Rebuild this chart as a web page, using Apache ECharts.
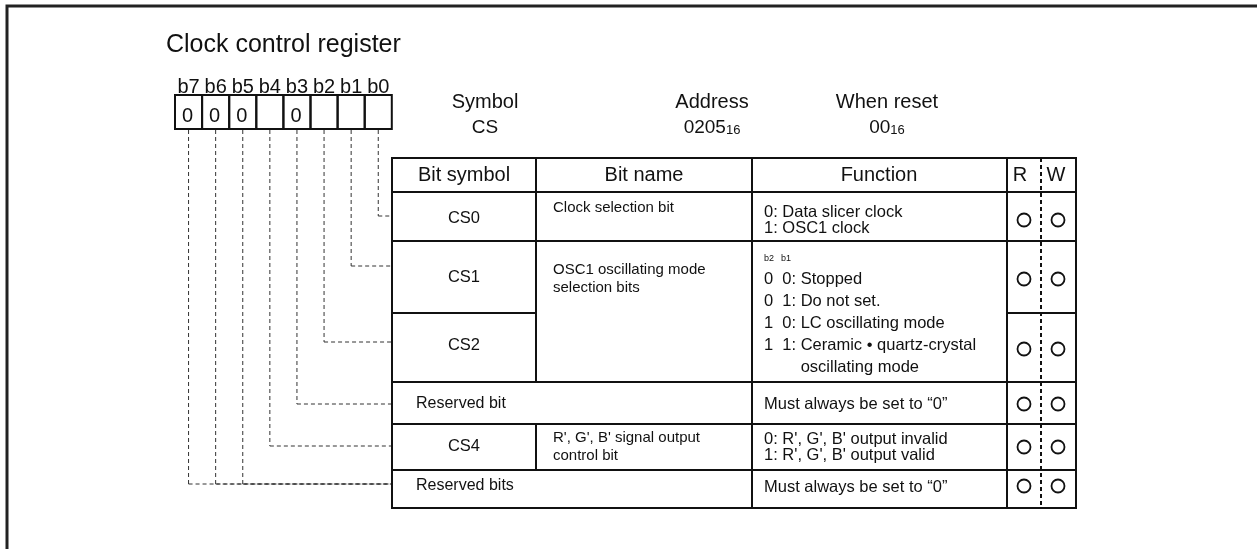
<!DOCTYPE html>
<html><head><meta charset="utf-8">
<script src="https://cdn.jsdelivr.net/npm/echarts@6/dist/echarts.min.js"></script>
<style>html,body{margin:0;padding:0;background:#fff}#c{width:1257px;height:549px}</style>
</head><body><div id="c"></div>
<script>
// ---------- content ----------
const titleText = 'Clock control register';
const bitLabels = ['b7','b6','b5','b4','b3','b2','b1','b0'];
const bitValues = ['0','0','0','','0','','',''];
const infoLabels = ['Symbol','Address','When reset'];
const infoValues = ['CS','0205','00'];
const infoSubscripts = ['','16','16'];
const columnHeaders = ['Bit symbol','Bit name','Function','R','W'];
const rowSymbols = ['CS0','CS1','CS2','Reserved bit','CS4','Reserved bits'];
const rowNames = [['Clock selection bit'],['OSC1 oscillating mode','selection bits'],[],[],["R', G', B' signal output",'control bit'],[]];
const rowFunctions = [
  ['0: Data slicer clock','1: OSC1 clock'],
  ['0  0: Stopped','0  1: Do not set.','1  0: LC oscillating mode','1  1: Ceramic \u2022 quartz-crystal','        oscillating mode'],
  [],
  ['Must always be set to \u201c0\u201d'],
  ["0: R', G', B' output invalid","1: R', G', B' output valid"],
  ['Must always be set to \u201c0\u201d']
];
const functionNote = ['b2','b1'];
const readable = ['O','O','O','O','O','O'];
const writable = ['O','O','O','O','O','O'];
const bitToRow = [5,5,5,4,3,2,1,0]; // b7..b0 -> row index

// ---------- layout ----------
const FONT = '"Liberation Sans", Arial, Helvetica, sans-serif';
const colX = [392,536,752,1007,1041,1076];
const rowY = [158,192,241,313,382,424,470,508];
const boxX0 = 175, boxW = 27.1, boxY0 = 95, boxY1 = 129;
const linkY = [216,266,342,404,446,484];
const symbolY = [218,277,345,404,446,486];
const nameY = [208,270,0,0,438,0];
const fnY = [212,279,0,404,439,487];
const markY = [220,279,349,404,447,486];
const infoX = [485,712,887];
const spanSymbolName = [false,false,false,true,false,true];

const els = [];
function txt(x,y,text,size,align,extra){
  els.push(Object.assign({type:'text',x:x,y:y,silent:true,style:{text:text,fill:'#111',font:size+'px '+FONT,fontSize:size,fontFamily:FONT,
    align:align||'left',verticalAlign:'middle',textAlign:align||'left',textVerticalAlign:'middle'}},extra||{}));
}
function line(x1,y1,x2,y2,w,dash,color){
  els.push({type:'line',silent:true,shape:{x1:x1,y1:y1,x2:x2,y2:y2},style:{stroke:color||'#111',lineWidth:w||2,lineDash:dash||null}});
}

// outer frame
els.push({type:'polyline',silent:true,shape:{points:[[7,549],[7,6],[1257,6]]},style:{stroke:'#222',lineWidth:3,fill:null}});

// title
txt(166,45,titleText,25);

// bit boxes
bitLabels.forEach((b,i)=>{
  const x = boxX0 + i*boxW;
  txt(x+boxW/2, 87, b, 20, 'center');
  els.push({type:'rect',silent:true,shape:{x:x,y:boxY0,width:boxW,height:boxY1-boxY0},style:{fill:'none',stroke:'#111',lineWidth:2}});
  if (bitValues[i]) txt(x+boxW/2-1, 116, bitValues[i], 20, 'center');
  const cx = x + boxW/2;
  const ly = linkY[bitToRow[i]];
  line(cx, boxY1+1, cx, ly, 1, [4,3], '#333');
  line(cx, ly, colX[0], ly, 1, [4,3], '#333');
});

// info labels
infoLabels.forEach((l,i)=>{
  txt(infoX[i], 102, l, 20, 'center');
  if (infoSubscripts[i]) {
    els.push({type:'text',x:infoX[i],y:128,silent:true,style:{
      text:'{a|'+infoValues[i]+'}{b|'+infoSubscripts[i]+'}',
      rich:{a:{fontSize:19,fontFamily:FONT,fill:'#111',verticalAlign:'bottom'},b:{fontSize:13,fontFamily:FONT,fill:'#111',verticalAlign:'bottom',padding:[0,0,1,0]}},
      align:'center',verticalAlign:'middle',textAlign:'center',textVerticalAlign:'middle'}});
  } else {
    txt(infoX[i], 128, infoValues[i], 19, 'center');
  }
});

// table frame
els.push({type:'rect',silent:true,shape:{x:colX[0],y:rowY[0],width:colX[5]-colX[0],height:rowY[7]-rowY[0]},style:{fill:'none',stroke:'#111',lineWidth:2}});
[1,2,4,5,6].forEach(r=>line(colX[0],rowY[r],colX[5],rowY[r],2));
line(colX[0],rowY[3],colX[1],rowY[3],2);
line(colX[3],rowY[3],colX[5],rowY[3],2);
line(colX[1],rowY[0],colX[1],rowY[4],2);
line(colX[1],rowY[5],colX[1],rowY[6],2);
line(colX[2],rowY[0],colX[2],rowY[7],2);
line(colX[3],rowY[0],colX[3],rowY[7],2);
line(colX[4],rowY[0],colX[4],rowY[7],2,[4,3]);

// header
const headerX = [464,644,879,1020,1056];
columnHeaders.forEach((h,i)=>txt(headerX[i], 175, h, 20, 'center'));

// rows
rowSymbols.forEach((s,r)=>{
  if (spanSymbolName[r]) txt(416, symbolY[r], s, 16, 'left');
  else txt((colX[0]+colX[1])/2, symbolY[r], s, 16.5, 'center');
  rowNames[r].forEach((n,k)=>txt(553, nameY[r]+k*18, n, 15, 'left'));
  const fn = rowFunctions[r];
  if (r===1){
    txt(764, 259, functionNote[0], 9, 'left');
    txt(781, 259, functionNote[1], 9, 'left');
    fn.forEach((f,k)=>txt(764, fnY[r]+k*22, f, 16.5, 'left'));
  } else {
    fn.forEach((f,k)=>txt(764, fnY[r]+k*16.5, f, 16.5, 'left'));
  }
  if (readable[r]) els.push({type:'circle',silent:true,shape:{cx:1024,cy:markY[r],r:6.5},style:{fill:'none',stroke:'#111',lineWidth:1.8}});
  if (writable[r]) els.push({type:'circle',silent:true,shape:{cx:1058,cy:markY[r],r:6.5},style:{fill:'none',stroke:'#111',lineWidth:1.8}});
});

const chart = echarts.init(document.getElementById('c'),null,{renderer:'canvas'});
chart.setOption({backgroundColor:'#fff',animation:false,graphic:{elements:els}});
</script>
</body></html>
